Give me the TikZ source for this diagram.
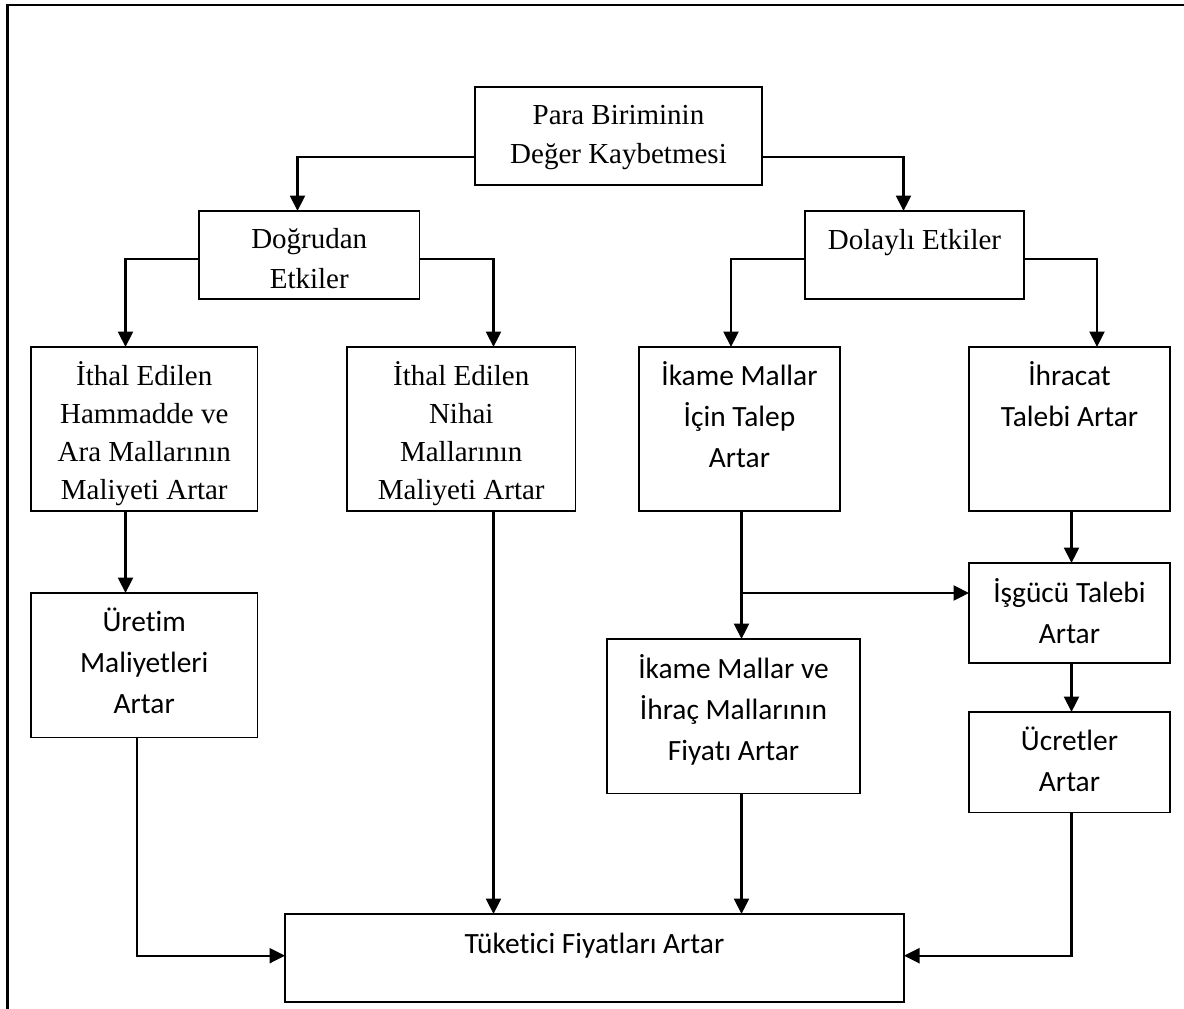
\documentclass[tikz,border=0pt]{standalone}
\usepackage{fontspec}
\setmainfont{Liberation Serif}
\newfontfamily\calfont[Ligatures=NoCommon]{Carlito}
\usetikzlibrary{arrows.meta}
\newcommand\serA{\fontsize{29}{39.5}\selectfont}
\newcommand\serB{\fontsize{29}{38.2}\selectfont}
\newcommand\sansA{\calfont\fontsize{29.4}{41}\selectfont}
\tikzset{
  boxn/.style={draw, line width=1.7pt, inner sep=0pt, outer sep=0pt},
  txt/.style={anchor=north, inner sep=0pt, align=center},
  arr/.style={line width=2.2pt, -{Triangle[length=15.5pt,width=15pt]}},
  frame/.style={line width=2.2pt}
}
\begin{document}
\begin{tikzpicture}[x=1pt, y=-1pt]
\useasboundingbox (0,0) rectangle (1184,1009);
% outer frame (cropped)
\draw[frame] (7.5,1009) -- (7.5,5) -- (1184,5);

% boxes
\node[boxn, minimum width=287pt, minimum height=98pt] (para) at (618.5,136) {};
\node[boxn, minimum width=220.5pt, minimum height=88pt] (dogru) at (309.25,255) {};
\node[boxn, minimum width=219pt, minimum height=88pt] (dolayli) at (914.5,255) {};
\node[boxn, minimum width=226.5pt, minimum height=164pt] (hamm) at (144.25,429) {};
\node[boxn, minimum width=228.5pt, minimum height=164pt] (nihai) at (461.25,429) {};
\node[boxn, minimum width=201pt, minimum height=164pt] (ikame) at (739.5,429) {};
\node[boxn, minimum width=201pt, minimum height=164pt] (ihracat) at (1069.5,429) {};
\node[boxn, minimum width=201pt, minimum height=100pt] (isgucu) at (1069.5,613) {};
\node[boxn, minimum width=201pt, minimum height=100.5pt] (ucret) at (1069.5,762.25) {};
\node[boxn, minimum width=253pt, minimum height=154.5pt] (fiyat) at (733.5,716.25) {};
\node[boxn, minimum width=226.5pt, minimum height=144.5pt] (uretim) at (144.25,665.25) {};
\node[boxn, minimum width=619pt, minimum height=88pt] (tuketici) at (594.5,958) {};

% texts
\node[txt, font=\serA] (para-t) at ([yshift=-9.4pt]para.north) {\strut Para Biriminin\\Değer Kaybetmesi};
\node[txt, font=\serA] (dogru-t) at ([yshift=-9.7pt]dogru.north) {\strut Doğrudan\\Etkiler};
\node[txt, font=\serA] (dolayli-t) at ([yshift=-11pt]dolayli.north) {\strut Dolaylı Etkiler};
\node[txt, font=\serB] (hamm-t) at ([yshift=-11.2pt]hamm.north) {\strut İthal Edilen\\Hammadde ve\\Ara Mallarının\\Maliyeti Artar};
\node[txt, font=\serB] (nihai-t) at ([yshift=-11.2pt]nihai.north) {\strut İthal Edilen\\Nihai\\Mallarının\\Maliyeti Artar};
\node[txt, font=\sansA] (ikame-t) at ([yshift=-9.3pt]ikame.north) {\strut İkame Mallar\\İçin Talep\\Artar};
\node[txt, font=\sansA] (ihracat-t) at ([yshift=-9.3pt]ihracat.north) {\strut İhracat\\Talebi Artar};
\node[txt, font=\sansA] (isgucu-t) at ([yshift=-10.3pt]isgucu.north) {\strut İşgücü Talebi\\Artar};
\node[txt, font=\sansA] (ucret-t) at ([yshift=-9.3pt]ucret.north) {\strut Ücretler\\Artar};
\node[txt, font=\sansA] (fiyat-t) at ([yshift=-10.3pt]fiyat.north) {\strut İkame Mallar ve\\İhraç Mallarının\\Fiyatı Artar};
\node[txt, font=\sansA] (uretim-t) at ([yshift=-10pt]uretim.north) {\strut Üretim\\Maliyetleri\\Artar};
\node[txt, font=\sansA] (tuketici-t) at ([yshift=-10.6pt]tuketici.north) {\strut Tüketici Fiyatları Artar};

% connectors
\draw[arr] ([yshift=-21pt]para.west) -| ([xshift=-11.75pt]dogru.north);
\draw[arr] ([yshift=-21pt]para.east) -| ([xshift=-11pt]dolayli.north);
\draw[arr] ([yshift=-4pt]dogru.west) -| ([xshift=-18.75pt]hamm.north);
\draw[arr] ([yshift=-4pt]dogru.east) -| ([xshift=32.25pt]nihai.north);
\draw[arr] ([yshift=-4pt]dolayli.west) -| ([xshift=-8.5pt]ikame.north);
\draw[arr] ([yshift=-4pt]dolayli.east) -| ([xshift=27.5pt]ihracat.north);
\draw[arr] ([xshift=-18.75pt]hamm.south) -- ([xshift=-18.75pt]uretim.north);
\draw[arr] ([xshift=32.25pt]nihai.south) -- ([xshift=-101pt]tuketici.north);
\coordinate (jn) at (741.5,593);
\draw[arr] ([xshift=2pt]ikame.south) -- ([xshift=8pt]fiyat.north);
\draw[arr] (jn) -- (jn -| isgucu.west);
\draw[arr] ([xshift=2pt]ihracat.south) -- ([xshift=2pt]isgucu.north);
\draw[arr] ([xshift=2pt]isgucu.south) -- ([xshift=2pt]ucret.north);
\draw[arr] ([xshift=2pt]ucret.south) |- ([yshift=2.3pt]tuketici.east);
\draw[arr] ([xshift=-7.25pt]uretim.south) |- ([yshift=2.3pt]tuketici.west);
\draw[arr] ([xshift=8pt]fiyat.south) -- ([xshift=147pt]tuketici.north);
\end{tikzpicture}
\end{document}
